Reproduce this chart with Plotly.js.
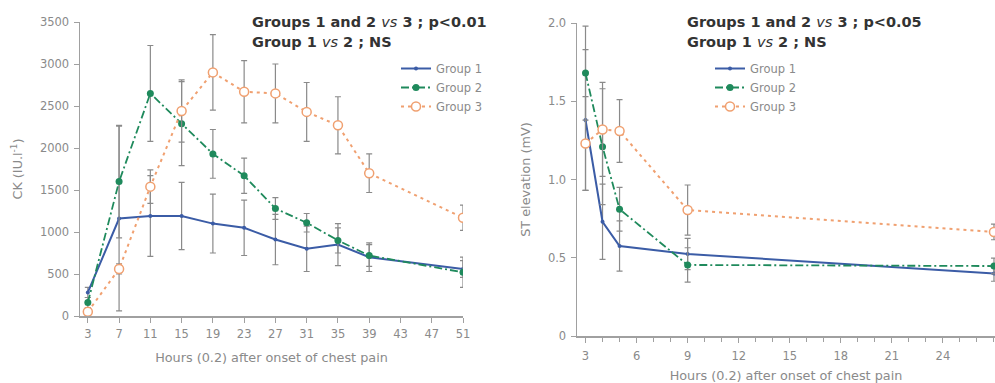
<!DOCTYPE html>
<html>
<head>
<meta charset="utf-8">
<script src="https://cdn.plot.ly/plotly-3.0.1.min.js"></script>
<style>html,body{margin:0;padding:0;background:#fff;}#chart{width:995px;height:383px;}</style>
</head>
<body>
<div id="chart"></div>
<script>
// ---- Data: CK panel ----
const hoursCK = [3, 7, 11, 15, 19, 23, 27, 31, 35, 39, 51];
const ckGroup1 = [280, 1160, 1190, 1190, 1100, 1050, 910, 800, 850, 700, 560];
const ckGroup1Err = [60, 1100, 480, 400, 350, 330, 300, 270, 250, 170, 100];
const ckGroup2 = [160, 1600, 2650, 2290, 1930, 1670, 1280, 1110, 900, 720, 520];
const ckGroup2Err = [60, 670, 570, 500, 290, 210, 130, 110, 150, 130, 180];
const ckGroup3 = [50, 560, 1540, 2440, 2900, 2670, 2650, 2430, 2270, 1700, 1170];
const ckGroup3Err = [30, 60, 200, 370, 450, 370, 350, 350, 340, 230, 150];
const ckTickVals = [0, 500, 1000, 1500, 2000, 2500, 3000, 3500];
const ckXTicks = [3, 7, 11, 15, 19, 23, 27, 31, 35, 39, 43, 47, 51];

// ---- Data: ST elevation panel ----
const hoursST = [3, 4, 5, 9, 27];
const stGroup1 = [1.38, 0.73, 0.575, 0.524, 0.40];
const stGroup1Err = [0.45, 0.24, 0.16, 0.10, 0.05];
const stGroup2 = [1.68, 1.21, 0.81, 0.454, 0.447];
const stGroup2Err = [0.30, 0.37, 0.14, 0.11, 0.05];
const stGroup3 = [1.23, 1.32, 1.31, 0.805, 0.665];
const stGroup3Err = [0.30, 0.30, 0.20, 0.16, 0.05];
const stTickVals = [0, 0.5, 1.0, 1.5, 2.0];
const stTickText = ['0', '0.5', '1.0', '1.5', '2.0'];
const stXTicks = [3, 6, 9, 12, 15, 18, 21, 24];

const groupNames = ['Group 1', 'Group 2', 'Group 3'];
const colors = ['#3b5ca6', '#1f8a5c', '#f0a070'];
const errColor = '#8a8a8a';
const FONT = 'DejaVu Sans, Verdana, sans-serif';

function err(arr) { return {type: 'data', array: arr, visible: true, color: errColor, thickness: 1.2, width: 3}; }

function makeTraces(x, ys, errs, xa, ya, legend) {
  const styles = [
    {line: {color: colors[0], width: 2, dash: 'solid'}, marker: {color: colors[0], size: 4, symbol: 'circle'}},
    {line: {color: colors[1], width: 1.8, dash: '8px,3px,2px,3px'}, marker: {color: colors[1], size: 7, symbol: 'circle'}},
    {line: {color: colors[2], width: 2, dash: '3px,4px'}, marker: {color: '#ffffff', size: 9, symbol: 'circle', line: {color: colors[2], width: 1.5}}}
  ];
  return ys.map((y, i) => ({
    type: 'scatter', mode: 'lines+markers', x: x, y: y, name: groupNames[i],
    xaxis: xa, yaxis: ya, legend: legend,
    error_y: err(errs[i]),
    line: styles[i].line, marker: styles[i].marker
  }));
}

const traces = [
  ...makeTraces(hoursCK, [ckGroup1, ckGroup2, ckGroup3], [ckGroup1Err, ckGroup2Err, ckGroup3Err], 'x', 'y', 'legend'),
  ...makeTraces(hoursST, [stGroup1, stGroup2, stGroup3], [stGroup1Err, stGroup2Err, stGroup3Err], 'x2', 'y2', 'legend2')
];

const tickFont = {family: FONT, size: 11.5, color: '#8a8a8a'};
const titleFont = {family: FONT, size: 12.8, color: '#8a8a8a'};
const axisCommon = {
  showline: true, linecolor: '#a0a0a0', linewidth: 1.5, showgrid: false, zeroline: false,
  ticks: 'outside', tickcolor: '#a0a0a0', ticklen: 5, tickwidth: 1,
  tickfont: tickFont
};
const W = 995, H = 383;
const legendCommon = {
  bgcolor: 'rgba(255,255,255,0)', borderwidth: 0,
  font: {family: FONT, size: 11.5, color: '#8a8a8a'},
  xanchor: 'left', yanchor: 'top', tracegroupgap: 0, itemwidth: 30
};
const annFont = {family: FONT, size: 14.5, color: '#333333', weight: 'bold'};
const vs = '<span style="font-style:italic;font-weight:normal">vs</span>';

const layout = {
  width: W, height: H,
  margin: {l: 0, r: 0, t: 0, b: 0},
  paper_bgcolor: '#fff', plot_bgcolor: '#fff',
  font: {family: FONT},
  showlegend: true,
  xaxis: Object.assign({}, axisCommon, {
    domain: [80 / W, 463 / W], range: [2, 51], tickmode: 'array', tickvals: ckXTicks,
    anchor: 'y', ticklabelstandoff: 2,
    title: {text: 'Hours (0.2) after onset of chest pain', font: titleFont, standoff: 12}
  }),
  yaxis: Object.assign({}, axisCommon, {
    domain: [(H - 316) / H, (H - 22) / H], range: [0, 3500], tickmode: 'array', tickvals: ckTickVals,
    anchor: 'x', ticklabelstandoff: 2,
    title: {text: 'CK (IU.l<sup>-1</sup>)', font: titleFont, standoff: 14}
  }),
  xaxis2: Object.assign({}, axisCommon, {
    domain: [577 / W, 1], range: [2.5, 27.06], tickmode: 'array', tickvals: stXTicks,
    anchor: 'y2', ticklabelstandoff: 4,
    minor: {dtick: 1, tick0: 0, ticks: 'outside', ticklen: 4, tickcolor: '#a0a0a0', showgrid: false},
    title: {text: 'Hours (0.2) after onset of chest pain', font: titleFont, standoff: 12}
  }),
  yaxis2: Object.assign({}, axisCommon, {
    domain: [(H - 336) / H, (H - 23) / H], range: [0, 2.0], tickmode: 'array', tickvals: stTickVals, ticktext: stTickText,
    anchor: 'x2', ticklabelstandoff: 2,
    title: {text: 'ST elevation (mV)', font: titleFont, standoff: 14}
  }),
  legend: Object.assign({}, legendCommon, {x: 396 / W, y: (H - 54) / H}),
  legend2: Object.assign({}, legendCommon, {x: 710 / W, y: (H - 54) / H}),
  annotations: [
    {xref: 'paper', yref: 'paper', x: 250 / W, y: (H - 22) / H, xanchor: 'left', yanchor: 'middle', showarrow: false,
     text: 'Groups 1 and 2 ' + vs + ' 3 ; p&lt;0.01', font: annFont},
    {xref: 'paper', yref: 'paper', x: 250 / W, y: (H - 42) / H, xanchor: 'left', yanchor: 'middle', showarrow: false,
     text: 'Group 1 ' + vs + ' 2 ; NS', font: annFont},
    {xref: 'paper', yref: 'paper', x: 685 / W, y: (H - 22) / H, xanchor: 'left', yanchor: 'middle', showarrow: false,
     text: 'Groups 1 and 2 ' + vs + ' 3 ; p&lt;0.05', font: annFont},
    {xref: 'paper', yref: 'paper', x: 685 / W, y: (H - 42) / H, xanchor: 'left', yanchor: 'middle', showarrow: false,
     text: 'Group 1 ' + vs + ' 2 ; NS', font: annFont}
  ]
};

Plotly.newPlot('chart', traces, layout, {displayModeBar: false, staticPlot: true});
</script>
</body>
</html>
